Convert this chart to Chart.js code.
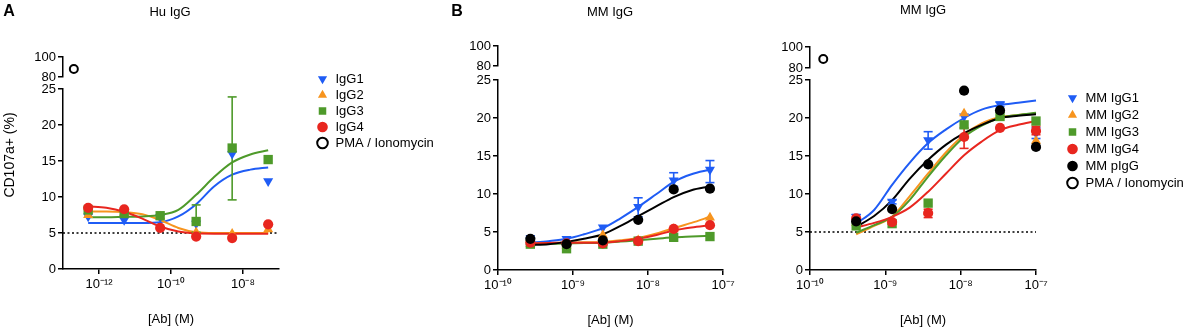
<!DOCTYPE html>
<html><head><meta charset="utf-8">
<script src="https://cdn.jsdelivr.net/npm/chart.js@4.4.1/dist/chart.umd.min.js"></script>
<style>
html,body{margin:0;padding:0;background:#fff;}
#wrap{position:relative;width:1192px;height:334px;overflow:hidden;background:#fff;}
canvas{position:absolute;}
</style></head><body><div id="wrap"></div>
<script>
// ================= DATA =================
const namesA = ['IgG1', 'IgG2', 'IgG3', 'IgG4', 'PMA / Ionomycin'];
const namesB = ['MM IgG1', 'MM IgG2', 'MM IgG3', 'MM IgG4', 'MM pIgG', 'PMA / Ionomycin'];

const xTicksA = [1e-12, 1e-10, 1e-8];
const xTickLabelsA = ['10⁻¹²', '10⁻¹⁰', '10⁻⁸'];
const xTicksB = [1e-10, 1e-9, 1e-8, 1e-7];
const xTickLabelsB = ['10⁻¹⁰', '10⁻⁹', '10⁻⁸', '10⁻⁷'];
const xRangeA = [1e-13, 1e-7];
const xRangeB = [1e-10, 1e-7];
const yTicksMain = [0, 5, 10, 15, 20, 25];
const yTicksTop = [80, 100];
const baseline = 5;

// Panel A : Hu IgG
const concA = [5e-13, 5e-12, 5e-11, 5e-10, 5e-9, 5e-8];
const huIgG1 = [7.3, 6.8, 7.2, 6.3, 16.0, 12.2];
const huIgG2 = [7.5, 7.8, 7.3, 5.1, 4.9, 5.5];
const huIgG3 = [8.2, 7.7, 7.4, 6.6, 16.8, 15.2];
const huIgG4 = [8.5, 8.3, 5.7, 4.5, 4.3, 6.2];
const huIgG3Err = [[5e-10, 5.1, 8.9], [5e-9, 9.6, 23.9]];
const pmaA = [[2e-13, 88]];
const fitConcA = [5e-13, 1.6e-12, 5e-12, 1.6e-11, 5e-11, 1.6e-10, 5e-10, 1.6e-9, 5e-9, 1.6e-8, 5e-8];
const fitHuIgG1 = [6.4, 6.4, 6.4, 6.4, 6.5, 7.3, 9.0, 11.5, 13.1, 13.8, 14.1];
const fitHuIgG2 = [8.0, 8.0, 7.9, 7.6, 6.8, 5.7, 5.1, 5.0, 5.0, 5.0, 5.0];
const fitHuIgG3 = [7.2, 7.2, 7.25, 7.3, 7.5, 8.2, 10.3, 12.8, 14.8, 15.9, 16.5];
const fitHuIgG4 = [8.7, 8.5, 7.95, 7.0, 5.9, 5.2, 4.95, 4.9, 4.9, 4.9, 4.9];

// Panel B left : MM IgG
const concB1 = [2.7e-10, 8.2e-10, 2.5e-9, 7.4e-9, 2.2e-8, 6.7e-8];
const b1IgG1 = [3.9, 4.1, 5.6, 8.3, 11.8, 13.2];
const b1IgG2 = [3.4, 3.2, 4.6, 3.9, 5.4, 6.9];
const b1IgG3 = [3.4, 2.8, 3.4, 3.8, 4.3, 4.4];
const b1IgG4 = [3.6, 3.5, 3.5, 3.8, 5.4, 5.9];
const b1pIgG = [4.1, 3.4, 3.9, 6.6, 10.6, 10.7];
const b1IgG1Err = [[2.7e-10, 3.3, 4.5], [7.4e-9, 7.0, 9.5], [2.2e-8, 11.0, 12.8], [6.7e-8, 11.5, 14.4]];
const b1IgG3Err = [[8.2e-10, 2.5, 3.1]];
const fitConcB1 = [2.7e-10, 4.7e-10, 8.2e-10, 1.4e-9, 2.5e-9, 4.3e-9, 7.4e-9, 1.3e-8, 2.2e-8, 3.8e-8, 6.7e-8];
const fitB1IgG1 = [3.6, 3.8, 4.1, 4.7, 5.5, 6.8, 8.3, 10.0, 11.6, 12.6, 13.2];
const fitB1IgG2 = [3.5, 3.55, 3.6, 3.65, 3.7, 3.9, 4.2, 4.8, 5.5, 6.2, 7.0];
const fitB1IgG3 = [3.4, 3.45, 3.5, 3.55, 3.6, 3.75, 3.9, 4.1, 4.3, 4.4, 4.5];
const fitB1IgG4 = [3.5, 3.55, 3.6, 3.6, 3.6, 3.8, 4.1, 4.6, 5.2, 5.6, 5.9];
const fitB1pIgG = [3.3, 3.4, 3.7, 4.1, 4.7, 5.8, 7.1, 8.4, 9.6, 10.5, 11.0];

// Panel B right : MM IgG
const concB2 = [4.1e-10, 1.23e-9, 3.7e-9, 1.11e-8, 3.33e-8, 1e-7];
const b2IgG1 = [7.0, 9.0, 17.1, 20.2, 21.8, 18.0];
const b2IgG2 = [6.2, 6.3, 7.6, 20.6, 20.3, 17.0];
const b2IgG3 = [5.8, 6.1, 8.8, 19.1, 20.2, 19.6];
const b2IgG4 = [6.8, 6.3, 7.5, 17.5, 18.7, 18.3];
const b2pIgG = [6.4, 8.0, 13.9, 23.6, 21.0, 16.2];
const b2IgG1Err = [[4.1e-10, 6.6, 7.3], [1.23e-9, 8.7, 9.2], [3.7e-9, 15.9, 18.2], [3.33e-8, 21.5, 22.1], [1e-7, 17.3, 18.7]];
const b2IgG4Err = [[3.7e-9, 6.9, 8.0], [1.11e-8, 16.0, 18.7], [1e-7, 17.8, 18.9]];
const pmaB2 = [[1.5e-10, 88.6]];
const fitConcB2 = [4.1e-10, 7.1e-10, 1.23e-9, 2.1e-9, 3.7e-9, 6.4e-9, 1.11e-8, 1.9e-8, 3.33e-8, 5.8e-8, 1e-7];
const fitB2IgG1 = [6.1, 7.9, 11.2, 14.1, 16.7, 18.5, 20.0, 21.1, 21.7, 22.0, 22.3];
const fitB2IgG2 = [4.7, 5.8, 7.0, 9.7, 12.7, 15.5, 17.8, 19.3, 20.1, 20.4, 20.6];
const fitB2IgG3 = [4.9, 5.9, 7.0, 9.2, 12.3, 15.1, 17.5, 19.0, 20.0, 20.4, 20.7];
const fitB2IgG4 = [5.6, 6.2, 7.0, 8.2, 10.3, 12.7, 15.1, 16.9, 18.4, 19.1, 19.6];
const fitB2pIgG = [5.7, 7.1, 9.2, 12.0, 14.5, 16.5, 18.0, 19.1, 20.0, 20.3, 20.5];

// ================= STYLES =================
const FONT = "'Liberation Sans', Arial, Helvetica, sans-serif";
Chart.defaults.font.family = FONT;
Chart.defaults.font.size = 13;
Chart.defaults.color = '#000';

const STY = {
  g1: {color: '#1f5cf5', pointStyle: 'triangle', rotation: 180, radius: 5.8, rank: 4},
  g2: {color: '#f7941e', pointStyle: 'triangle', rotation: 0, radius: 5.8, rank: 3},
  g3: {color: '#4e9a2a', pointStyle: 'rect', rotation: 0, radius: 6.6, rank: 2},
  g4: {color: '#e8261f', pointStyle: 'circle', rotation: 0, radius: 5.1, rank: 1},
  gp: {color: '#000000', pointStyle: 'circle', rotation: 0, radius: 5.1, rank: 0}
};
const PMA_STY = {pointStyle: 'circle', radius: 4, backgroundColor: '#ffffff', borderColor: '#000000', borderWidth: 2};

const pairs = (xs, ys) => xs.map((x, i) => ({x: x, y: ys[i]}));

function seriesSets(st, xs, ys, fx, fy, errs) {
  const out = [];
  out.push({data: pairs(xs, ys), showLine: false, pointStyle: st.pointStyle, rotation: st.rotation,
    pointRadius: st.radius, backgroundColor: st.color, borderColor: st.color, borderWidth: 0,
    order: 10 + st.rank, clip: false});
  out.push({data: pairs(fx, fy), showLine: true, borderColor: st.color, borderWidth: 2, pointRadius: 0,
    cubicInterpolationMode: 'monotone', order: 30 + st.rank, clip: false});
  if (errs && errs.length) {
    const seg = [];
    const caps = [];
    errs.forEach(e => {
      seg.push({x: e[0], y: e[1]}, {x: e[0], y: e[2]}, {x: e[0], y: null});
      caps.push({x: e[0], y: e[1]}, {x: e[0], y: e[2]});
    });
    out.push({data: seg, showLine: true, spanGaps: false, borderColor: st.color, borderWidth: 1.6,
      pointRadius: 0, order: 20 + st.rank, clip: false});
    out.push({data: caps, showLine: false, pointStyle: 'line', pointRadius: 4.5, borderColor: st.color,
      backgroundColor: st.color, borderWidth: 1.6, order: 20 + st.rank, clip: false});
  }
  return out;
}
function pmaSet(pts) {
  return {data: pts.map(p => ({x: p[0], y: p[1]})), showLine: false, pointStyle: PMA_STY.pointStyle,
    pointRadius: PMA_STY.radius, backgroundColor: PMA_STY.backgroundColor, borderColor: PMA_STY.borderColor,
    borderWidth: PMA_STY.borderWidth, clip: false};
}
function baselineSet(range) {
  return {data: [{x: range[0], y: baseline}, {x: range[1], y: baseline}], showLine: true,
    borderColor: '#000', borderWidth: 1.5, borderDash: [2, 2.5], pointRadius: 0, order: 50, clip: false};
}

// free text plugin (panel letters, panel titles, y title)
const freeText = {
  id: 'freeText',
  afterDraw(chart, args, opts) {
    const ctx = chart.ctx;
    (opts.items || []).forEach(it => {
      ctx.save();
      ctx.font = it.font;
      ctx.fillStyle = '#000';
      ctx.textAlign = 'center';
      ctx.textBaseline = 'middle';
      ctx.translate(it.x, it.y);
      if (it.rot) ctx.rotate(it.rot);
      ctx.fillText(it.text, 0, 0);
      ctx.restore();
    });
  }
};

const wrap = document.getElementById('wrap');
function makeCanvas(left, top, w, h) {
  const c = document.createElement('canvas');
  c.width = w; c.height = h;
  c.style.left = left + 'px'; c.style.top = top + 'px';
  c.style.width = w + 'px'; c.style.height = h + 'px';
  wrap.appendChild(c);
  return c;
}

const Y_BOX = 34, X_BOX = 62;
const gridStyle = {display: true, drawOnChartArea: false, drawTicks: true, tickLength: 5, color: '#000', lineWidth: 1.5};
const borderStyle = {display: true, color: '#000', width: 1.5};

function xScaleCfg(range, ticks, labels, show) {
  return {
    type: 'logarithmic', min: range[0], max: range[1], display: show,
    afterBuildTicks: s => { s.ticks = ticks.map(v => ({value: v})); },
    afterFit: s => { if (show) s.height = X_BOX; },
    ticks: {autoSkip: false, maxRotation: 0, minRotation: 0, padding: 3, color: '#000', font: {size: 13},
      callback: (v, i) => labels[i]},
    grid: gridStyle, border: borderStyle,
    title: {display: show, text: '[Ab] (M)', color: '#000', font: {size: 13}, padding: {top: 0, bottom: 4}}
  };
}
function yScaleCfg(min, max, ticks) {
  return {
    type: 'linear', min: min, max: max,
    afterBuildTicks: s => { s.ticks = ticks.map(v => ({value: v})); },
    afterFit: s => { s.width = Y_BOX; },
    ticks: {padding: 2, color: '#000', font: {size: 13}},
    grid: gridStyle, border: borderStyle
  };
}

function buildPanel(p) {
  const pl = p.areaLeft - p.left - Y_BOX;
  const pr = p.left + p.width - p.areaRight;
  const base = {responsive: false, animation: false, devicePixelRatio: 1, events: []};
  const c1 = makeCanvas(p.left, 0, p.width, 334);
  new Chart(c1, {
    type: 'scatter',
    data: {datasets: p.mainSets},
    plugins: [freeText],
    options: Object.assign({}, base, {
      layout: {autoPadding: false, padding: {left: pl, right: pr, top: p.mainTop, bottom: 334 - p.mainBottom - X_BOX}},
      plugins: {
        legend: {display: false}, tooltip: {enabled: false},
        freeText: {items: p.texts}
      },
      scales: {x: xScaleCfg(p.xRange, p.xTicks, p.xLabels, true), y: yScaleCfg(0, 25, yTicksMain)}
    })
  });
  const topH = 50, topC = p.topTop - 17;
  const c2 = makeCanvas(p.left, topC, p.width, topH);
  new Chart(c2, {
    type: 'scatter',
    data: {datasets: p.topSets},
    options: Object.assign({}, base, {
      layout: {autoPadding: false, padding: {left: pl, right: pr, top: p.topTop - topC, bottom: topC + topH - p.topBottom}},
      plugins: {legend: {display: false}, tooltip: {enabled: false}},
      scales: {x: xScaleCfg(p.xRange, p.xTicks, p.xLabels, false), y: yScaleCfg(80, 100, yTicksTop)}
    })
  });
}

function buildLegend(left, top, w, h, padL, padT, rowPad, names, styles) {
  const c = makeCanvas(left, top, w, h);
  const sets = names.map((n, i) => {
    const s = styles[i];
    if (s === 'pma') {
      return {label: n, data: [], pointStyle: PMA_STY.pointStyle, backgroundColor: PMA_STY.backgroundColor,
        borderColor: PMA_STY.borderColor, borderWidth: PMA_STY.borderWidth, rotation: 0};
    }
    return {label: n, data: [], pointStyle: s.pointStyle, rotation: s.rotation, backgroundColor: s.color,
      borderColor: s.color, borderWidth: 0};
  });
  new Chart(c, {
    type: 'scatter',
    data: {datasets: sets},
    options: {
      responsive: false, animation: false, devicePixelRatio: 1, events: [],
      layout: {autoPadding: false, padding: {left: padL, top: padT, right: 0, bottom: 0}},
      plugins: {
        tooltip: {enabled: false},
        legend: {display: true, position: 'left', align: 'start',
          labels: {usePointStyle: true, boxHeight: 7.5, padding: rowPad, color: '#000', font: {size: 13}}}
      },
      scales: {x: {display: false}, y: {display: false}}
    }
  });
}

// ----- Panel A -----
buildPanel({
  left: 0, width: 342, areaLeft: 63, areaRight: 279, mainTop: 89, mainBottom: 269, topTop: 57, topBottom: 77,
  xRange: xRangeA, xTicks: xTicksA, xLabels: xTickLabelsA,
  mainSets: [].concat(
    seriesSets(STY.g1, concA, huIgG1, fitConcA, fitHuIgG1, null),
    seriesSets(STY.g2, concA, huIgG2, fitConcA, fitHuIgG2, null),
    seriesSets(STY.g3, concA, huIgG3, fitConcA, fitHuIgG3, huIgG3Err),
    seriesSets(STY.g4, concA, huIgG4, fitConcA, fitHuIgG4, null),
    [baselineSet(xRangeA)]
  ),
  topSets: [pmaSet(pmaA)],
  texts: [
    {text: 'A', x: 9, y: 12, font: 'bold 16px ' + FONT},
    {text: 'Hu IgG', x: 170, y: 12, font: '13px ' + FONT},
    {text: 'CD107a+ (%)', x: 10, y: 155, rot: -Math.PI / 2, font: '14px ' + FONT}
  ]
});

// ----- Panel B left -----
buildPanel({
  left: 440, width: 340, areaLeft: 498, areaRight: 723, mainTop: 80, mainBottom: 270, topTop: 46, topBottom: 66,
  xRange: xRangeB, xTicks: xTicksB, xLabels: xTickLabelsB,
  mainSets: [].concat(
    seriesSets(STY.g1, concB1, b1IgG1, fitConcB1, fitB1IgG1, b1IgG1Err),
    seriesSets(STY.g2, concB1, b1IgG2, fitConcB1, fitB1IgG2, null),
    seriesSets(STY.g3, concB1, b1IgG3, fitConcB1, fitB1IgG3, b1IgG3Err),
    seriesSets(STY.g4, concB1, b1IgG4, fitConcB1, fitB1IgG4, null),
    seriesSets(STY.gp, concB1, b1pIgG, fitConcB1, fitB1pIgG, null)
  ),
  topSets: [],
  texts: [
    {text: 'B', x: 17, y: 12, font: 'bold 16px ' + FONT},
    {text: 'MM IgG', x: 170, y: 12, font: '13px ' + FONT}
  ]
});

// ----- Panel B right -----
buildPanel({
  left: 770, width: 306, areaLeft: 810, areaRight: 1036, mainTop: 80, mainBottom: 270, topTop: 47, topBottom: 68,
  xRange: xRangeB, xTicks: xTicksB, xLabels: xTickLabelsB,
  mainSets: [].concat(
    seriesSets(STY.g1, concB2, b2IgG1, fitConcB2, fitB2IgG1, b2IgG1Err),
    seriesSets(STY.g2, concB2, b2IgG2, fitConcB2, fitB2IgG2, null),
    seriesSets(STY.g3, concB2, b2IgG3, fitConcB2, fitB2IgG3, null),
    seriesSets(STY.g4, concB2, b2IgG4, fitConcB2, fitB2IgG4, b2IgG4Err),
    seriesSets(STY.gp, concB2, b2pIgG, fitConcB2, fitB2pIgG, null),
    [baselineSet(xRangeB)]
  ),
  topSets: [pmaSet(pmaB2)],
  texts: [{text: 'MM IgG', x: 153, y: 10, font: '13px ' + FONT}]
});

// ----- Legends -----
buildLegend(300, 60, 320, 120, 13, 9.5, 3, namesA, [STY.g1, STY.g2, STY.g3, STY.g4, 'pma']);
buildLegend(1050, 80, 300, 140, 12, 7.5, 4, namesB, [STY.g1, STY.g2, STY.g3, STY.g4, STY.gp, 'pma']);
</script>
</body></html>
